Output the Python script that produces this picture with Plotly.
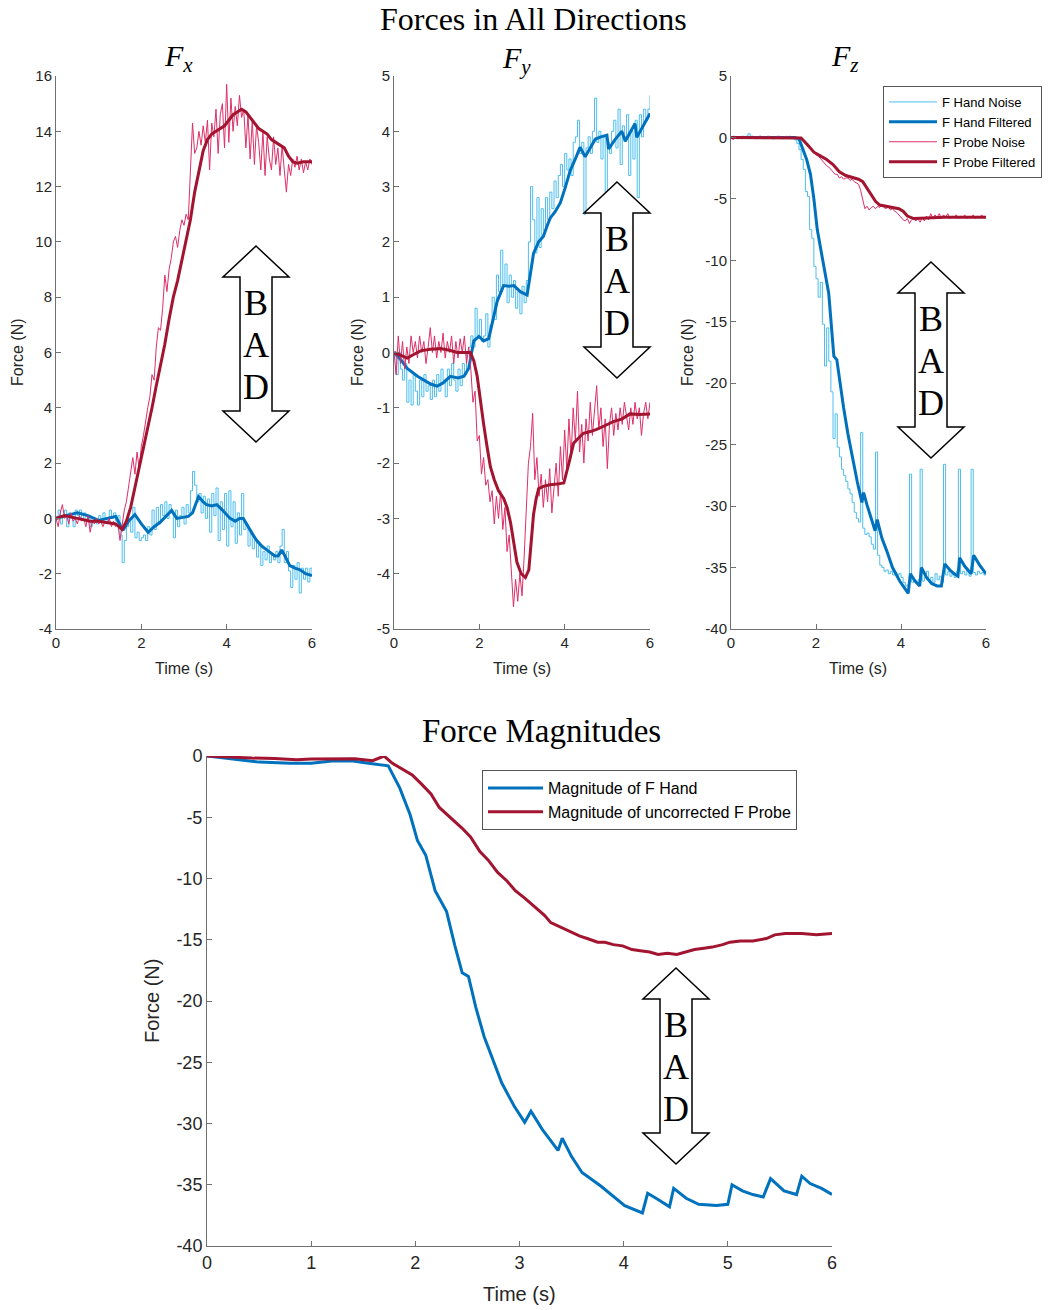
import plotly.graph_objects as go

W, H = 1052, 1310

# ---------------- data ----------------
NOISE_T = [0.00,0.05,0.10,0.15,0.20,0.25,0.30,0.35,0.40,0.45,
           0.50,0.55,0.60,0.65,0.70,0.75,0.80,0.85,0.90,0.95,
           1.00,1.05,1.10,1.15,1.20,1.25,1.30,1.35,1.40,1.45,
           1.50,1.55,1.60,1.65,1.70,1.75,1.80,1.85,1.90,1.95,
           2.00,2.05,2.10,2.15,2.20,2.25,2.30,2.35,2.40,2.45,
           2.50,2.55,2.60,2.65,2.70,2.75,2.80,2.85,2.90,2.95,
           3.00,3.05,3.10,3.15,3.20,3.25,3.30,3.35,3.40,3.45,
           3.50,3.55,3.60,3.65,3.70,3.75,3.80,3.85,3.90,3.95,
           4.00,4.05,4.10,4.15,4.20,4.25,4.30,4.35,4.40,4.45,
           4.50,4.55,4.60,4.65,4.70,4.75,4.80,4.85,4.90,4.95,
           5.00,5.05,5.10,5.15,5.20,5.25,5.30,5.35,5.40,5.45,
           5.50,5.55,5.60,5.65,5.70,5.75,5.80,5.85,5.90,5.95,
           6.00]

FX_HAND_NOISE = [0.0,0.3,-0.2,0.1,0.3,-0.3,0.2,0.0,-0.3,0.3,
                 0.1,0.3,0.0,0.2,-0.1,0.0,-0.3,-0.1,0.0,-0.2,
                 0.1,-0.1,0.2,0.0,-0.1,0.3,0.0,0.2,-0.1,0.1,
                 -0.6,-1.6,-0.8,-0.3,0.0,-0.5,0.4,-0.7,-0.5,-0.8,
                 -0.7,-0.6,-0.8,-0.3,-0.6,0.3,-0.4,0.4,-0.2,0.5,
                 0.1,0.6,0.0,0.5,0.2,-0.7,0.3,-0.3,0.1,0.4,
                 -0.2,0.5,0.2,1.0,1.7,1.2,0.6,0.9,0.2,0.8,
                 0.0,0.7,-0.5,0.9,0.1,1.1,-0.8,0.6,-0.4,0.9,
                 -1.0,1.0,-0.3,0.6,-0.9,0.2,-0.6,0.9,-0.4,-0.2,
                 -1.0,-0.5,-1.1,-0.8,-1.4,-0.9,-1.7,-1.2,-1.5,-1.0,
                 -1.6,-1.3,-1.5,-1.2,-1.6,-1.0,-0.4,-1.6,-1.2,-1.9,
                 -2.5,-1.7,-2.2,-1.6,-2.7,-1.8,-2.2,-1.8,-2.3,-1.8,
                 -2.0]
FX_PROBE_NOISE = [0.0,-0.3,0.2,0.5,0.0,0.1,-0.2,0.2,-0.1,0.0,
                  -0.2,0.1,-0.1,0.0,-0.3,0.1,-0.5,-0.1,-0.2,0.0,
                  -0.2,-0.1,-0.3,-0.1,-0.2,0.0,-0.3,-0.1,-0.3,-0.2,
                  -0.8,-0.2,0.3,0.6,1.2,1.8,2.2,1.6,2.4,1.8,
                  2.6,3.0,3.6,4.0,4.4,5.2,5.0,6.2,6.9,6.8,
                  7.6,8.8,8.2,9.0,9.4,10.0,10.2,9.8,10.4,10.8,
                  10.6,11.0,10.8,12.5,14.3,13.2,13.4,14.0,13.5,14.2,
                  13.6,14.4,12.6,14.3,13.8,14.8,13.2,14.6,15.0,13.4,
                  15.7,13.6,15.2,14.0,14.9,14.2,15.3,14.5,14.8,13.4,
                  14.6,13.0,14.4,12.8,14.2,13.6,12.6,14.0,12.4,13.8,
                  13.0,12.6,13.8,12.8,13.4,12.4,13.5,12.6,11.8,12.8,
                  12.4,13.0,12.7,13.1,12.6,13.0,12.5,12.9,12.6,13.0,
                  12.8]
FX_HAND_F_T = [0,0.25,0.5,0.75,1.0,1.2,1.4,1.57,1.7,1.85,2.0,2.16,2.3,2.44,2.6,2.71,2.83,3.0,3.1,3.2,
               3.34,3.45,3.53,3.65,3.77,3.9,4.08,4.2,4.3,4.39,4.5,4.6,4.7,4.82,4.94,5.05,5.13,5.21,5.29,
               5.38,5.48,5.6,5.72,5.85,6.0]
FX_HAND_F = [0,0.1,0.2,0.1,-0.07,0.0,0.07,-0.43,-0.1,0.14,-0.2,-0.5,-0.3,-0.14,0.1,0.29,0.0,0.05,0.07,0.2,
             0.79,0.6,0.5,0.45,0.5,0.3,0.0,-0.1,0.0,0.0,-0.3,-0.55,-0.79,-1.0,-1.14,-1.25,-1.36,-1.35,-1.14,
             -1.4,-1.71,-1.8,-1.86,-2.0,-2.07]
FX_PROBE_F_T = [0,0.2,0.5,0.8,1.0,1.2,1.4,1.55,1.65,1.75,1.85,1.95,2.05,2.15,2.25,2.35,2.45,2.55,2.65,2.75,
                2.85,2.95,3.05,3.15,3.25,3.35,3.45,3.55,3.65,3.75,3.85,3.95,4.05,4.15,4.25,4.35,4.45,4.55,
                4.65,4.75,4.85,4.95,5.05,5.15,5.25,5.35,5.45,5.55,5.65,5.8,6.0]
FX_PROBE_F = [0.0,0.1,0.0,-0.1,-0.1,-0.15,-0.2,-0.4,-0.1,0.4,1.1,1.8,2.6,3.3,4.0,4.8,5.5,6.3,7.2,8.0,
              8.6,9.3,10.0,10.8,11.8,12.6,13.3,13.7,13.9,14.0,14.1,14.2,14.4,14.6,14.7,14.8,14.7,14.5,
              14.3,14.1,14.0,13.9,13.7,13.6,13.5,13.4,13.1,12.9,12.85,12.9,12.9]

FY_HAND_NOISE = [0.0,-0.4,0.0,-0.3,-0.5,-0.2,-0.9,-0.5,-0.95,-0.4,
                 -0.7,-0.95,-0.5,-0.8,-0.4,-0.7,-0.6,-0.85,-0.5,-0.8,
                 -0.4,-0.7,-0.3,-0.5,-0.8,-0.3,-0.6,-0.2,-0.5,-0.7,
                 -0.3,-0.6,-0.2,-0.4,0.0,0.1,0.3,0.1,0.8,0.3,
                 0.6,0.2,0.3,0.7,0.1,0.5,1.0,0.6,1.4,1.1,
                 1.85,1.2,1.6,0.9,1.4,1.0,1.3,0.8,1.1,0.7,
                 1.2,0.9,1.3,2.0,3.0,2.4,1.8,2.8,1.9,2.6,
                 2.2,2.8,2.4,2.9,2.6,3.1,2.8,3.2,3.4,3.0,
                 3.6,3.3,3.5,3.2,3.8,3.9,4.2,3.6,3.8,2.5,
                 3.7,3.9,3.6,4.0,4.6,3.8,4.0,3.5,3.9,2.9,
                 3.8,3.6,4.0,4.2,3.7,4.4,3.4,4.1,3.9,4.3,
                 3.2,4.0,3.5,4.2,2.8,4.3,3.9,4.4,4.2,4.4,
                 4.65]
FY_PROBE_NOISE = [0.0,-0.4,0.3,-0.2,0.2,-0.3,0.1,-0.2,0.3,0.0,
                  0.2,-0.1,0.3,0.0,0.2,-0.2,0.1,0.45,0.0,0.3,
                  -0.1,0.2,0.0,0.35,-0.1,0.2,0.0,0.3,-0.2,0.2,
                  -0.1,0.25,0.0,0.3,-0.2,0.1,-0.3,-0.9,-0.7,-1.6,
                  -1.5,-2.2,-1.9,-2.4,-2.3,-2.7,-2.5,-3.1,-2.6,-3.0,
                  -2.5,-3.2,-2.8,-3.6,-3.3,-4.0,-4.6,-4.1,-4.5,-4.0,
                  -4.4,-3.7,-2.8,-2.0,-1.7,-1.1,-2.3,-1.9,-2.6,-2.2,
                  -2.8,-2.3,-2.7,-2.1,-2.9,-2.4,-2.0,-2.6,-1.7,-2.3,
                  -1.4,-2.1,-1.2,-1.9,-1.0,-1.6,-0.7,-1.8,-1.3,-2.0,
                  -1.2,-1.6,-0.9,-1.5,-1.1,-0.6,-1.4,-1.0,-1.7,-1.2,
                  -2.1,-1.3,-1.0,-1.5,-1.1,-1.4,-1.0,-1.3,-0.9,-1.2,
                  -1.4,-1.0,-1.3,-0.9,-1.2,-1.0,-1.5,-1.1,-0.9,-1.2,
                  -0.9]
FY_HAND_F_T = [0,0.15,0.31,0.55,0.86,1.01,1.15,1.32,1.5,1.64,1.75,1.87,1.99,2.1,2.22,2.32,2.42,2.57,2.7,2.81,
               2.96,3.12,3.27,3.39,3.5,3.59,3.66,3.78,3.9,4.02,4.13,4.25,4.36,4.48,4.6,4.72,4.85,4.99,5.03,
               5.18,5.34,5.42,5.55,5.65,5.69,5.85,6.0]
FY_HAND_F = [0,-0.12,-0.29,-0.43,-0.57,-0.61,-0.55,-0.43,-0.46,-0.43,-0.29,0.21,0.29,0.21,0.25,0.6,0.93,1.21,1.2,1.21,
             1.1,1.04,1.79,2.0,2.1,2.29,2.43,2.55,2.71,3.0,3.29,3.5,3.71,3.54,3.7,3.86,3.9,3.93,3.68,
             3.85,4.0,3.82,4.0,4.14,3.89,4.1,4.32]
FY_PROBE_F_T = [0,0.15,0.31,0.45,0.62,0.85,1.09,1.3,1.48,1.79,1.87,1.95,2.02,2.1,2.18,2.26,2.35,2.45,2.57,2.65,
                2.73,2.8,2.88,2.98,3.08,3.16,3.22,3.27,3.33,3.39,3.5,3.66,3.82,3.98,4.1,4.21,4.32,4.44,4.6,
                4.75,4.95,5.14,5.35,5.53,5.75,6.0]
FY_PROBE_F = [0,-0.05,-0.1,-0.04,0.03,0.06,0.07,0.04,0.0,0.0,-0.15,-0.43,-0.85,-1.29,-1.7,-2.07,-2.3,-2.5,-2.64,-2.8,
              -3.07,-3.4,-3.79,-4.0,-4.07,-3.93,-3.4,-2.93,-2.65,-2.46,-2.42,-2.39,-2.38,-2.36,-2.0,-1.64,-1.55,-1.46,-1.43,
              -1.39,-1.32,-1.25,-1.2,-1.11,-1.12,-1.11]

FZ_HAND_NOISE = [0.0,0.1,0.0,-0.1,0.0,0.1,0.0,0.1,0.3,0.1,
                 0.0,-0.1,0.0,0.1,0.0,-0.1,0.0,0.1,0.0,-0.1,
                 0.0,0.0,0.1,0.0,-0.1,0.0,0.0,0.1,0.0,-0.1,
                 -0.2,-0.5,-1.0,-1.8,-2.6,-4.4,-4.8,-7.5,-8.2,-10.5,
                 -11.5,-13.0,-11.8,-15.2,-18.6,-15.5,-18.2,-20.7,-24.5,-22.5,
                 -25.2,-26.0,-27.0,-27.5,-28.0,-28.6,-29.0,-29.7,-30.5,-31.0,
                 -31.3,-24.0,-31.8,-32.3,-32.2,-32.5,-33.1,-33.5,-25.6,-34.0,
                 -34.8,-35.0,-35.3,-35.2,-35.5,-35.3,-35.6,-35.4,-35.6,-35.5,
                 -35.8,-36.2,-36.5,-36.4,-27.4,-36.2,-36.0,-36.3,-36.0,-27.0,
                 -36.1,-35.8,-35.3,-36.1,-35.8,-36.2,-35.5,-36.0,-35.7,-36.2,
                 -26.6,-35.6,-35.3,-35.7,-35.4,-35.8,-35.3,-27.0,-35.5,-35.3,
                 -35.6,-35.2,-35.7,-27.0,-35.4,-35.6,-35.3,-35.5,-35.4,-35.6,
                 -35.5]
FZ_PROBE_NOISE = [0.0,-0.2,0.1,-0.1,0.0,-0.1,0.0,0.1,-0.1,0.0,
                  0.1,0.0,-0.1,0.0,0.1,0.0,-0.1,0.0,0.1,0.0,
                  -0.1,0.0,0.1,0.0,-0.1,0.0,0.1,0.0,-0.1,0.0,
                  0.0,0.0,0.0,-0.1,-0.3,-0.5,-0.7,-0.8,-1.0,-1.2,
                  -1.4,-1.5,-1.7,-1.9,-2.1,-2.3,-2.4,-2.6,-2.8,-3.0,
                  -3.0,-3.3,-3.2,-3.4,-3.3,-3.3,-3.5,-3.4,-3.6,-3.7,
                  -3.8,-4.3,-5.2,-5.8,-5.6,-5.9,-5.7,-5.6,-5.8,-5.6,
                  -5.7,-5.5,-5.7,-5.8,-5.6,-5.9,-5.8,-6.0,-6.1,-6.3,
                  -6.5,-6.7,-6.8,-6.6,-7.0,-6.7,-6.6,-6.8,-6.6,-6.9,
                  -6.5,-6.8,-6.4,-6.7,-6.2,-6.6,-6.3,-6.5,-6.2,-6.6,
                  -6.3,-6.5,-6.2,-6.6,-6.4,-6.5,-6.3,-6.6,-6.4,-6.5,
                  -6.3,-6.6,-6.4,-6.5,-6.3,-6.6,-6.4,-6.5,-6.3,-6.5,
                  -6.4]
FZ_HAND_F_T = [0,0.5,1.0,1.5,1.6,1.68,1.78,1.87,1.95,2.03,2.1,2.18,2.3,2.42,2.49,2.57,2.65,2.75,2.85,2.97,
               3.08,3.12,3.2,3.27,3.39,3.44,3.55,3.66,3.8,3.97,4.08,4.17,4.22,4.33,4.44,4.48,4.6,4.72,4.85,
               4.95,5.03,5.15,5.25,5.34,5.38,5.5,5.65,5.71,5.85,6.0]
FZ_HAND_F = [0,0,0,0,-0.1,-0.8,-1.8,-3.0,-5.0,-7.5,-9.0,-10.4,-12.7,-17.8,-18.1,-20.2,-22.0,-24.1,-25.9,-28.0,
             -29.7,-28.9,-29.9,-30.7,-32.0,-31.1,-32.6,-33.6,-35.0,-36.1,-36.7,-37.1,-35.5,-36.1,-36.5,-35.0,-35.8,-36.3,-36.5,
             -36.5,-34.7,-35.2,-35.5,-35.7,-34.2,-34.9,-35.5,-34.0,-34.8,-35.5]
FZ_PROBE_F_T = [0,0.5,1.0,1.5,1.65,1.8,1.95,2.1,2.25,2.4,2.55,2.7,2.85,3.0,3.1,3.2,3.3,3.4,3.5,3.65,
                3.8,3.95,4.05,4.15,4.3,4.45,4.6,5.0,5.5,6.0]
FZ_PROBE_F = [0,0,0,0,-0.05,-0.6,-1.2,-1.5,-1.8,-2.2,-2.8,-3.1,-3.25,-3.4,-3.6,-4.1,-4.7,-5.2,-5.5,-5.6,
              -5.7,-5.8,-6.0,-6.4,-6.6,-6.6,-6.55,-6.5,-6.5,-6.5]

MAG_HAND_T = [0,0.3,0.5,0.8,1.0,1.2,1.4,1.55,1.65,1.74,1.85,1.95,2.02,2.1,2.19,2.3,2.38,2.45,2.51,2.58,
              2.66,2.75,2.83,2.95,3.05,3.11,3.22,3.37,3.41,3.5,3.6,3.78,3.9,4.01,4.18,4.23,4.33,4.44,4.48,
              4.6,4.72,4.89,5.0,5.04,5.14,5.24,5.34,5.41,5.54,5.66,5.71,5.79,5.9,6.0]
MAG_HAND = [0,-0.3,-0.5,-0.6,-0.6,-0.4,-0.4,-0.6,-0.7,-0.8,-2.6,-4.8,-6.9,-8.1,-11.0,-12.7,-15.5,-17.7,-18.0,-20.5,
            -22.9,-25.0,-26.7,-28.6,-29.9,-29.0,-30.5,-32.2,-31.2,-32.7,-34.0,-35.1,-35.9,-36.7,-37.3,-35.7,-36.2,-36.8,-35.3,
            -36.1,-36.6,-36.7,-36.6,-35.0,-35.5,-35.8,-36.0,-34.5,-35.5,-35.8,-34.3,-34.9,-35.3,-35.8]
MAG_PROBE_T = [0,0.2,0.43,0.65,0.86,1.0,1.2,1.42,1.59,1.7,1.78,1.85,1.97,2.06,2.15,2.23,2.36,2.45,2.53,2.62,
               2.7,2.79,2.88,2.96,3.05,3.13,3.24,3.3,3.4,3.48,3.58,3.65,3.75,3.82,3.9,3.99,4.08,4.16,4.25,4.33,
               4.42,4.51,4.6,4.68,4.77,4.85,4.95,5.02,5.12,5.24,5.37,5.45,5.55,5.71,5.85,6.0]
MAG_PROBE = [0,-0.1,-0.17,-0.2,-0.3,-0.25,-0.25,-0.23,-0.38,0.0,-0.6,-0.96,-1.54,-2.3,-3.1,-4.2,-5.2,-5.9,-6.6,-7.8,
             -8.5,-9.5,-10.2,-11.0,-11.6,-12.2,-13.0,-13.6,-14.0,-14.3,-14.7,-14.9,-15.2,-15.2,-15.4,-15.5,-15.8,-15.9,-16.0,-16.2,
             -16.1,-16.2,-16.0,-15.8,-15.7,-15.6,-15.4,-15.2,-15.1,-15.1,-14.9,-14.6,-14.5,-14.5,-14.6,-14.5]

X_TICKS_TOP = [0, 2, 4, 6]
X_TICKS_BOTTOM = [0, 1, 2, 3, 4, 5, 6]
FX_TICKS = [16, 14, 12, 10, 8, 6, 4, 2, 0, -2, -4]
FY_TICKS = [5, 4, 3, 2, 1, 0, -1, -2, -3, -4, -5]
FZ_TICKS = [5, 0, -5, -10, -15, -20, -25, -30, -35, -40]
MAG_TICKS = [0, -5, -10, -15, -20, -25, -30, -35, -40]

LEGEND_NAMES = ["F Hand Noise", "F Hand Filtered", "F Probe Noise", "F Probe Filtered"]
MAG_NAMES = ["Magnitude of F Hand", "Magnitude of uncorrected F Probe"]

# ---------------- style ----------------
C_HN = "#4DBEEE"
C_HF = "#0072BD"
C_PN = "#DE2F68"
C_PF = "#A2142F"
AXL = "#707070"
TXT = "#262626"
SANS = "Liberation Sans, Arial, sans-serif"
SERIF = "Liberation Serif, Times New Roman, serif"


def px(x):
    return x / W


def py(y):
    return 1 - y / H


fig = go.Figure()

panels = [
    ("x", "y", FX_HAND_NOISE, FX_HAND_F_T, FX_HAND_F, FX_PROBE_NOISE, FX_PROBE_F_T, FX_PROBE_F),
    ("x2", "y2", FY_HAND_NOISE, FY_HAND_F_T, FY_HAND_F, FY_PROBE_NOISE, FY_PROBE_F_T, FY_PROBE_F),
    ("x3", "y3", FZ_HAND_NOISE, FZ_HAND_F_T, FZ_HAND_F, FZ_PROBE_NOISE, FZ_PROBE_F_T, FZ_PROBE_F),
]
for i, (xa, ya, hn, hft, hf, pn, pft, pf) in enumerate(panels):
    show = (i == 2)
    fig.add_trace(go.Scatter(x=NOISE_T, y=hn, mode="lines", line=dict(color=C_HN, width=1, shape="hv"),
                             name=LEGEND_NAMES[0], showlegend=show, xaxis=xa, yaxis=ya))
    fig.add_trace(go.Scatter(x=hft, y=hf, mode="lines", line=dict(color=C_HF, width=3),
                             name=LEGEND_NAMES[1], showlegend=show, xaxis=xa, yaxis=ya))
    fig.add_trace(go.Scatter(x=NOISE_T, y=pn, mode="lines", line=dict(color=C_PN, width=1),
                             name=LEGEND_NAMES[2], showlegend=show, xaxis=xa, yaxis=ya))
    fig.add_trace(go.Scatter(x=pft, y=pf, mode="lines", line=dict(color=C_PF, width=3),
                             name=LEGEND_NAMES[3], showlegend=show, xaxis=xa, yaxis=ya))

fig.add_trace(go.Scatter(x=MAG_HAND_T, y=MAG_HAND, mode="lines", line=dict(color=C_HF, width=3),
                         name=MAG_NAMES[0], xaxis="x4", yaxis="y4", legend="legend2"))
fig.add_trace(go.Scatter(x=MAG_PROBE_T, y=MAG_PROBE, mode="lines", line=dict(color=C_PF, width=3),
                         name=MAG_NAMES[1], xaxis="x4", yaxis="y4", legend="legend2"))


def axis(domain, rng, ticks, fs, anchor):
    return dict(domain=domain, range=rng, anchor=anchor, showline=True, linecolor=AXL, linewidth=1,
                ticks="inside", ticklen=5, tickcolor=AXL, tickwidth=1,
                tickvals=ticks, ticktext=[str(t) for t in ticks],
                tickfont=dict(family=SANS, size=fs, color=TXT),
                showgrid=False, zeroline=False, mirror=False, automargin=False)


top_y = [py(629), py(76)]
bot_y = [py(1246), py(756)]
layout_axes = dict(
    xaxis=axis([px(56), px(312)], [0, 6], X_TICKS_TOP, 15, "y"),
    yaxis=axis(top_y, [-4, 16], FX_TICKS, 15, "x"),
    xaxis2=axis([px(394), px(650)], [0, 6], X_TICKS_TOP, 15, "y2"),
    yaxis2=axis(top_y, [-5, 5], FY_TICKS, 15, "x2"),
    xaxis3=axis([px(731), px(986)], [0, 6], X_TICKS_TOP, 15, "y3"),
    yaxis3=axis(top_y, [-40, 5], FZ_TICKS, 15, "x3"),
    xaxis4=axis([px(207), px(832)], [0, 6], X_TICKS_BOTTOM, 18, "y4"),
    yaxis4=axis(bot_y, [-40, 0], MAG_TICKS, 18, "x4"),
)

ann = []


def text(x, y, t, size, family=SANS, angle=0, color=TXT):
    ann.append(dict(x=px(x), y=py(y), xref="paper", yref="paper", text=t, showarrow=False,
                    xanchor="center", yanchor="middle", textangle=angle,
                    font=dict(family=family, size=size, color=color)))


text(533, 19, "Forces in All Directions", 32, SERIF, color="black")
text(541, 731, "Force Magnitudes", 33, SERIF, color="black")
text(178, 58, "<i>F</i><sub><i>x</i></sub>", 30, SERIF, color="black")
text(516, 60, "<i>F</i><sub><i>y</i></sub>", 30, SERIF, color="black")
text(845, 58, "<i>F</i><sub><i>z</i></sub>", 30, SERIF, color="black")
for xx in (18, 358, 688):
    text(xx, 352, "Force (N)", 16, angle=-90)
for xx in (184, 522, 858):
    text(xx, 668, "Time (s)", 16)
text(152, 1001, "Force (N)", 20, angle=-90)
text(519, 1294, "Time (s)", 20)

shapes = []


def bad_arrow(cx, top):
    pts = [(cx, top), (cx + 33, top + 31), (cx + 16, top + 31), (cx + 16, top + 165),
           (cx + 33, top + 165), (cx, top + 196), (cx - 33, top + 165), (cx - 16, top + 165),
           (cx - 16, top + 31), (cx - 33, top + 31)]
    path = "M " + " L ".join(f"{px(a):.5f},{py(b):.5f}" for a, b in pts) + " Z"
    shapes.append(dict(type="path", xref="paper", yref="paper", path=path,
                       line=dict(color="black", width=1.5), fillcolor="white", layer="above"))
    for k, letter in enumerate("BAD"):
        text(cx, top + 57 + 42 * k, letter, 36, SERIF, color="black")


bad_arrow(256, 246)
bad_arrow(617, 182)
bad_arrow(931, 262)
bad_arrow(676, 968)

fig.update_layout(
    width=W, height=H, margin=dict(l=0, r=0, t=0, b=0, autoexpand=False),
    paper_bgcolor="white", plot_bgcolor="white",
    annotations=ann, shapes=shapes,
    legend=dict(x=px(883), y=py(86), xanchor="left", yanchor="top", bgcolor="white",
                bordercolor="#555555", borderwidth=1, font=dict(family=SANS, size=13, color="black"),
                itemwidth=48, tracegroupgap=0),
    legend2=dict(x=px(482), y=py(770), xanchor="left", yanchor="top", bgcolor="white",
                 bordercolor="#555555", borderwidth=1, font=dict(family=SANS, size=16, color="black"),
                 itemwidth=55, tracegroupgap=0),
    showlegend=True,
    **layout_axes,
)

fig.write_html(
    "out.html",
    config={"displayModeBar": False},
    post_script="document.documentElement.style.margin='0';document.body.style.margin='0';"
                "document.body.style.padding='0';document.documentElement.style.overflow='hidden';",
)
